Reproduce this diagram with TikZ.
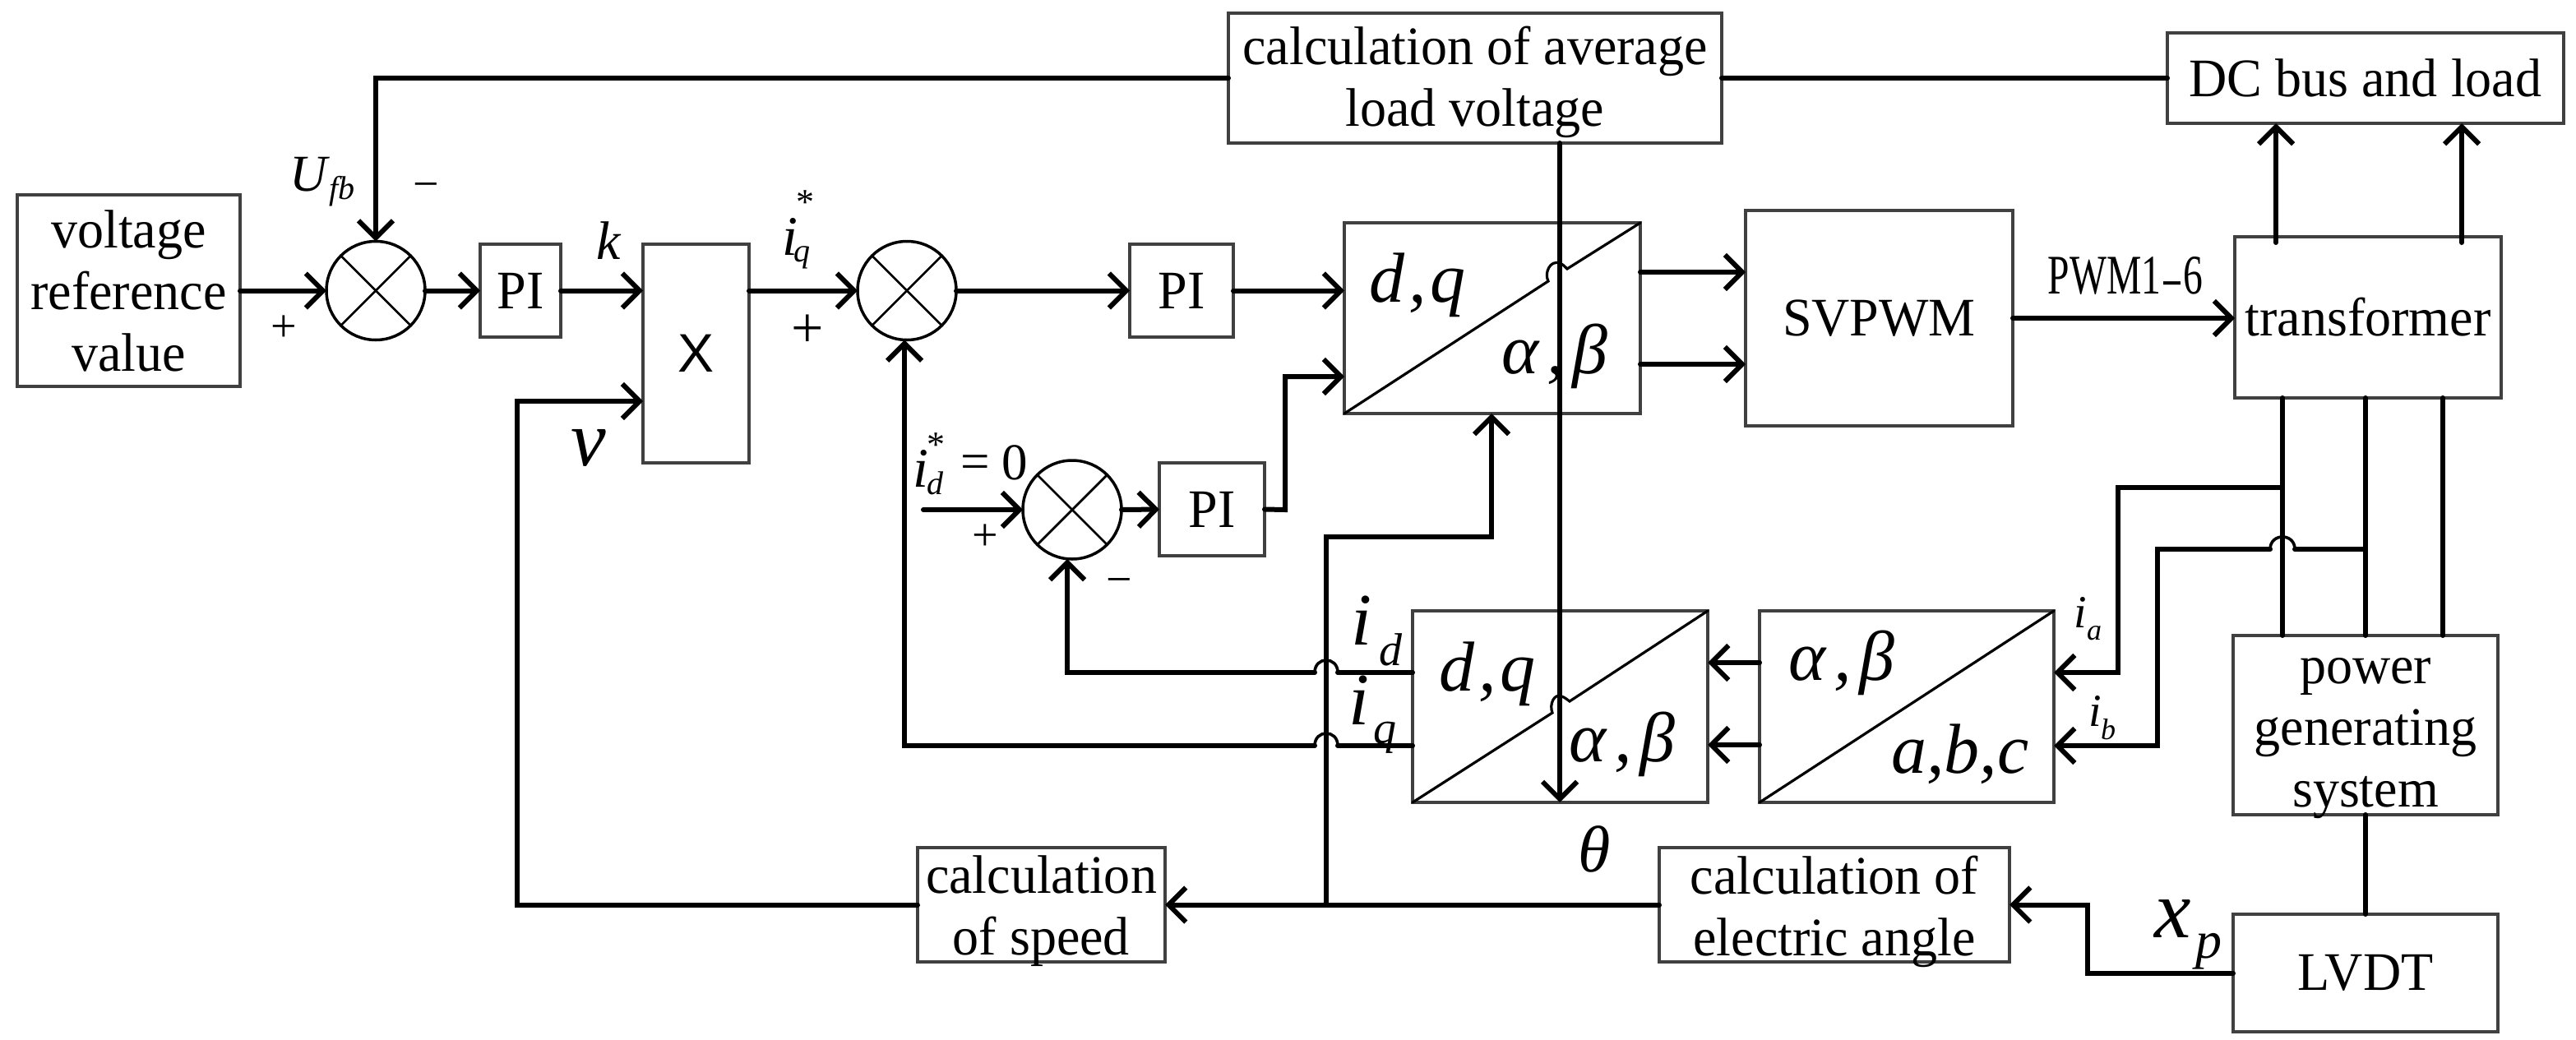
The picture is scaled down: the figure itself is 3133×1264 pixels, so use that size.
\documentclass[tikz,border=0pt]{standalone}
\usepackage{fontspec}
\setmainfont{Liberation Serif}
\newfontfamily\blockfont[FakeStretch=0.97]{Liberation Serif}
\newfontfamily\pwmfont[FakeStretch=0.7]{Liberation Serif}
\newfontfamily\lsans{Liberation Sans}
\usetikzlibrary{arrows.meta,calc}
\definecolor{boxgray}{HTML}{404040}
\tikzset{
  blockbox/.style={draw=boxgray,line width=2pt,inner sep=0pt,outer sep=0pt,rectangle,fill=none},
  blocktext/.style={inner sep=0pt,outer sep=0pt,align=center,font=\blockfont\fontsize{33}{37.5}\selectfont},
  sumnode/.style={draw=black,line width=1.75pt,circle,inner sep=0pt,outer sep=0pt,minimum size=60pt},
  sumcross/.style={line width=1.4pt},
  wire/.style={line width=3pt,line cap=round,line join=miter,-},
  arr/.style={line width=3pt,line cap=round,line join=miter,-{Straight Barb[length=10.5pt,width=21pt,line width=3pt]}},
  jump/.style={line width=1.8pt},
  diag/.style={line width=1.6pt,line cap=round},
  lab/.style={inner sep=0pt,outer sep=0pt}
}
% name, x1, y1, x2, y2, text shift (pt, downward), text
\newcommand{\bx}[7]{%
  \pgfmathsetmacro{\bxw}{(#4-#2)*0.5}\pgfmathsetmacro{\bxh}{(#5-#3)*0.5}%
  \node[blockbox,minimum width=\bxw pt,minimum height=\bxh pt] (#1) at ({(#2+#4)/2},{(#3+#5)/2}) {};
  \node[blocktext,yshift=-#6pt] (#1t) at (#1.center) {#7};}
\newcommand{\lb}[5]{\node[lab,font=\fontsize{#4}{#4}\selectfont] (#1) at (#2,#3) {#5};}
\newcommand{\cm}[1]{\kern#1pt,\kern#1pt}
\begin{document}
\begin{tikzpicture}[x=0.5pt,y=-0.5pt]
\useasboundingbox (0,0) rectangle (3133,1264);
% blocks
\bx{vref}{21}{237}{292}{470}{0}{voltage\\reference\\value}
\bx{pia}{584}{297}{682}{410}{0}{PI}
\bx{mul}{782}{297}{911}{563}{0}{\lsans X}
\bx{pib}{1374}{297}{1500}{410}{0}{PI}
\bx{pic}{1410}{563}{1538}{676}{0}{PI}
\bx{dqa}{1635}{271}{1995}{503}{0}{}
\bx{svpwm}{2123}{256}{2448}{518}{0}{SVPWM}
\bx{trans}{2718}{288}{3042}{484}{0}{transformer}
\bx{dcbus}{2636}{40}{3118}{150}{0}{DC bus and load}
\bx{avg}{1494}{16}{2094}{174}{2.5}{calculation of average\\load voltage}
\bx{dqb}{1718}{743}{2077}{976}{0}{}
\bx{abc}{2140}{743}{2498}{976}{0}{}
\bx{power}{2716}{773}{3038}{991}{8}{power\\generating\\system}
\bx{lvdt}{2716}{1112}{3038}{1255}{0}{LVDT}
\bx{angle}{2018}{1031}{2444}{1170}{4}{calculation of\\electric angle}
\bx{speed}{1116}{1031}{1417}{1170}{4}{calculation\\of speed}
% summing junctions
\node[sumnode] (sa) at (457,353.5) {};
\node[sumnode] (sb) at (1103,353.5) {};
\node[sumnode] (sc) at (1304,620) {};
\foreach \s in {sa,sb,sc}{
  \draw[sumcross] (\s.45) -- (\s.225);
  \draw[sumcross] (\s.135) -- (\s.315);
}
% diagonals
\draw[diag] (abc.south west) -- (abc.north east);
\draw[diag] (dqa.south west) -- (1883,342) .. controls (1878,332) and (1885,316) .. (1897,320) .. controls (1900,321) and (1903,324) .. (1906,327) -- (dqa.north east);
\draw[diag] (dqb.south west) -- (1888,867) .. controls (1884,857) and (1890,843) .. (1899,847) .. controls (1903,848) and (1906,851) .. (1909,853) -- (dqb.north east);
% named bends
\coordinate (thetatop) at (1897,174);
\coordinate (ubend) at (629,488);
\coordinate (jn) at (1613,1100.5);
\coordinate (jup) at (1613,653);
\coordinate (dqin) at (1814,653);
% forward path
\draw[arr] (vref.east) -- (sa.west);
\draw[arr] (sa.east) -- (pia.west);
\draw[arr] (pia.east) -- (pia.east -| mul.west);
\draw[arr] (pia.east -| mul.east) -- (sb.west);
\draw[arr] (sb.east) -- (pib.west);
\draw[arr] (pib.east) -- (pib.east -| dqa.west);
\draw[wire] (dcbus.west) -- (avg.east);
\draw[arr] (avg.west) -- (avg.west -| sa.north) -- (sa.north);
\draw[arr] (pic.east) -- (1563,620) -- (1563,458) -- (1635,458);
\draw[arr] (1123,620) -- (sc.west);
\draw[arr] (sc.east) -- (pic.west);
\draw[arr] (1995,331) -- (1995,331 -| svpwm.west);
\draw[arr] (1995,443) -- (1995,443 -| svpwm.west);
\draw[arr] (svpwm.east) -- (svpwm.east -| trans.west);
\draw[arr] (2768,295) -- (2768,150);
\draw[arr] (2994,295) -- (2994,150);
% feedback
\draw[wire,arrows=-] (1718,818) -- (1627,818);
\draw[jump] (1627,818) .. controls (1627,798) and (1599,798) .. (1599,818);
\draw[arr] (1599,818) -- (1298,818) -- (1298,680);
\draw[wire] (1718,907) -- (1627,907);
\draw[jump] (1627,907) .. controls (1627,887) and (1599,887) .. (1599,907);
\draw[arr] (1599,907) -- (1100,907) -- (1100,413.5);
\draw[arr] (thetatop) -- (thetatop |- dqb.south);
\draw[arr] (2140,806) -- (2077,806);
\draw[arr] (2140,906) -- (2077,906);
\draw[wire] (2776,484) -- (2776,773);
\draw[wire] (2877,484) -- (2877,773);
\draw[wire] (2971,484) -- (2971,773);
\draw[arr] (2776,593) -- (2576,593) -- (2576,818) -- (2498,818);
\draw[wire] (2877,668) -- (2791,668);
\draw[jump] (2791,668) .. controls (2791,648) and (2761,648) .. (2761,668);
\draw[arr] (2761,668) -- (2624,668) -- (2624,907) -- (2498,907);
\draw[wire] (power.south) -- (lvdt.north);
\draw[arr] (lvdt.west) -- (2539,1183.5) -- (2539,1100.5) -- (angle.east);
\draw[arr] (angle.west) -- (jn) -- (speed.east);
\draw[arr] (speed.west) -- (629,1100.5) -- (ubend) -- (ubend -| mul.west);
\draw[arr] (jn) -- (jup) -- (dqin) -- (dqin |- dqa.south);
% labels
\lb{ufb}{375}{212}{31.5}{\itshape U}
\lb{ufbs}{416}{233}{20}{\itshape fb}
\lb{minusa}{518}{233}{28}{−}
\lb{plusa}{345}{400}{28}{+}
\lb{kk}{740}{293}{33}{\itshape k}
\lb{iqs}{961}{288}{34}{\itshape i}
\lb{iqstar}{979}{246}{22}{*}
\lb{iqsub}{975}{313}{20}{\itshape q}
\lb{plusb}{982}{403}{35}{+}
\lb{vv}{716}{545}{48}{\itshape v}
\lb{ids}{1120}{570}{34}{\itshape i}
\lb{idstar}{1138}{541}{22}{*}
\lb{idsub}{1137}{588}{20}{\itshape d}
\lb{ideq}{1186}{568}{31.5}{=}
\lb{idzero}{1234}{563}{31.5}{0}
\lb{plusc}{1198}{654}{28}{+}
\lb{minusc}{1361}{713}{28}{−}
\lb{idl}{1656}{755}{45}{\itshape i}
\lb{idlsub}{1691}{790}{28}{\itshape d}
\lb{iql}{1653}{852}{45}{\itshape i}
\lb{iqlsub}{1684}{897}{28}{\itshape q}
\lb{dqat}{1724}{347}{43}{\itshape d\cm{2.5}q}
\lb{aba}{1891}{433}{43}{\itshape α\cm{5}β}
\lb{dqbt}{1809}{820}{43}{\itshape d\cm{2.5}q}
\lb{abb}{1973}{905}{43}{\itshape α\cm{5}β}
\lb{abc1}{2240}{806}{43}{\itshape α\cm{5}β}
\lb{abc2}{2384}{917}{43}{\itshape a,b,c}
\lb{theta}{1939}{1033}{40}{\itshape θ}
\lb{ia}{2530}{745}{28}{\itshape i}
\lb{iasub}{2547}{770}{18}{\itshape a}
\lb{ib}{2548}{865}{28}{\itshape i}
\lb{ibsub}{2564}{887}{18}{\itshape b}
\lb{xp}{2643}{1118}{50}{\itshape x}
\lb{xpsub}{2686}{1157}{32}{\itshape p}
\lb{pwm}{2585}{335}{34}{\pwmfont PWM1\scalebox{1.7}[0.8]{-}6}
\end{tikzpicture}
\end{document}
